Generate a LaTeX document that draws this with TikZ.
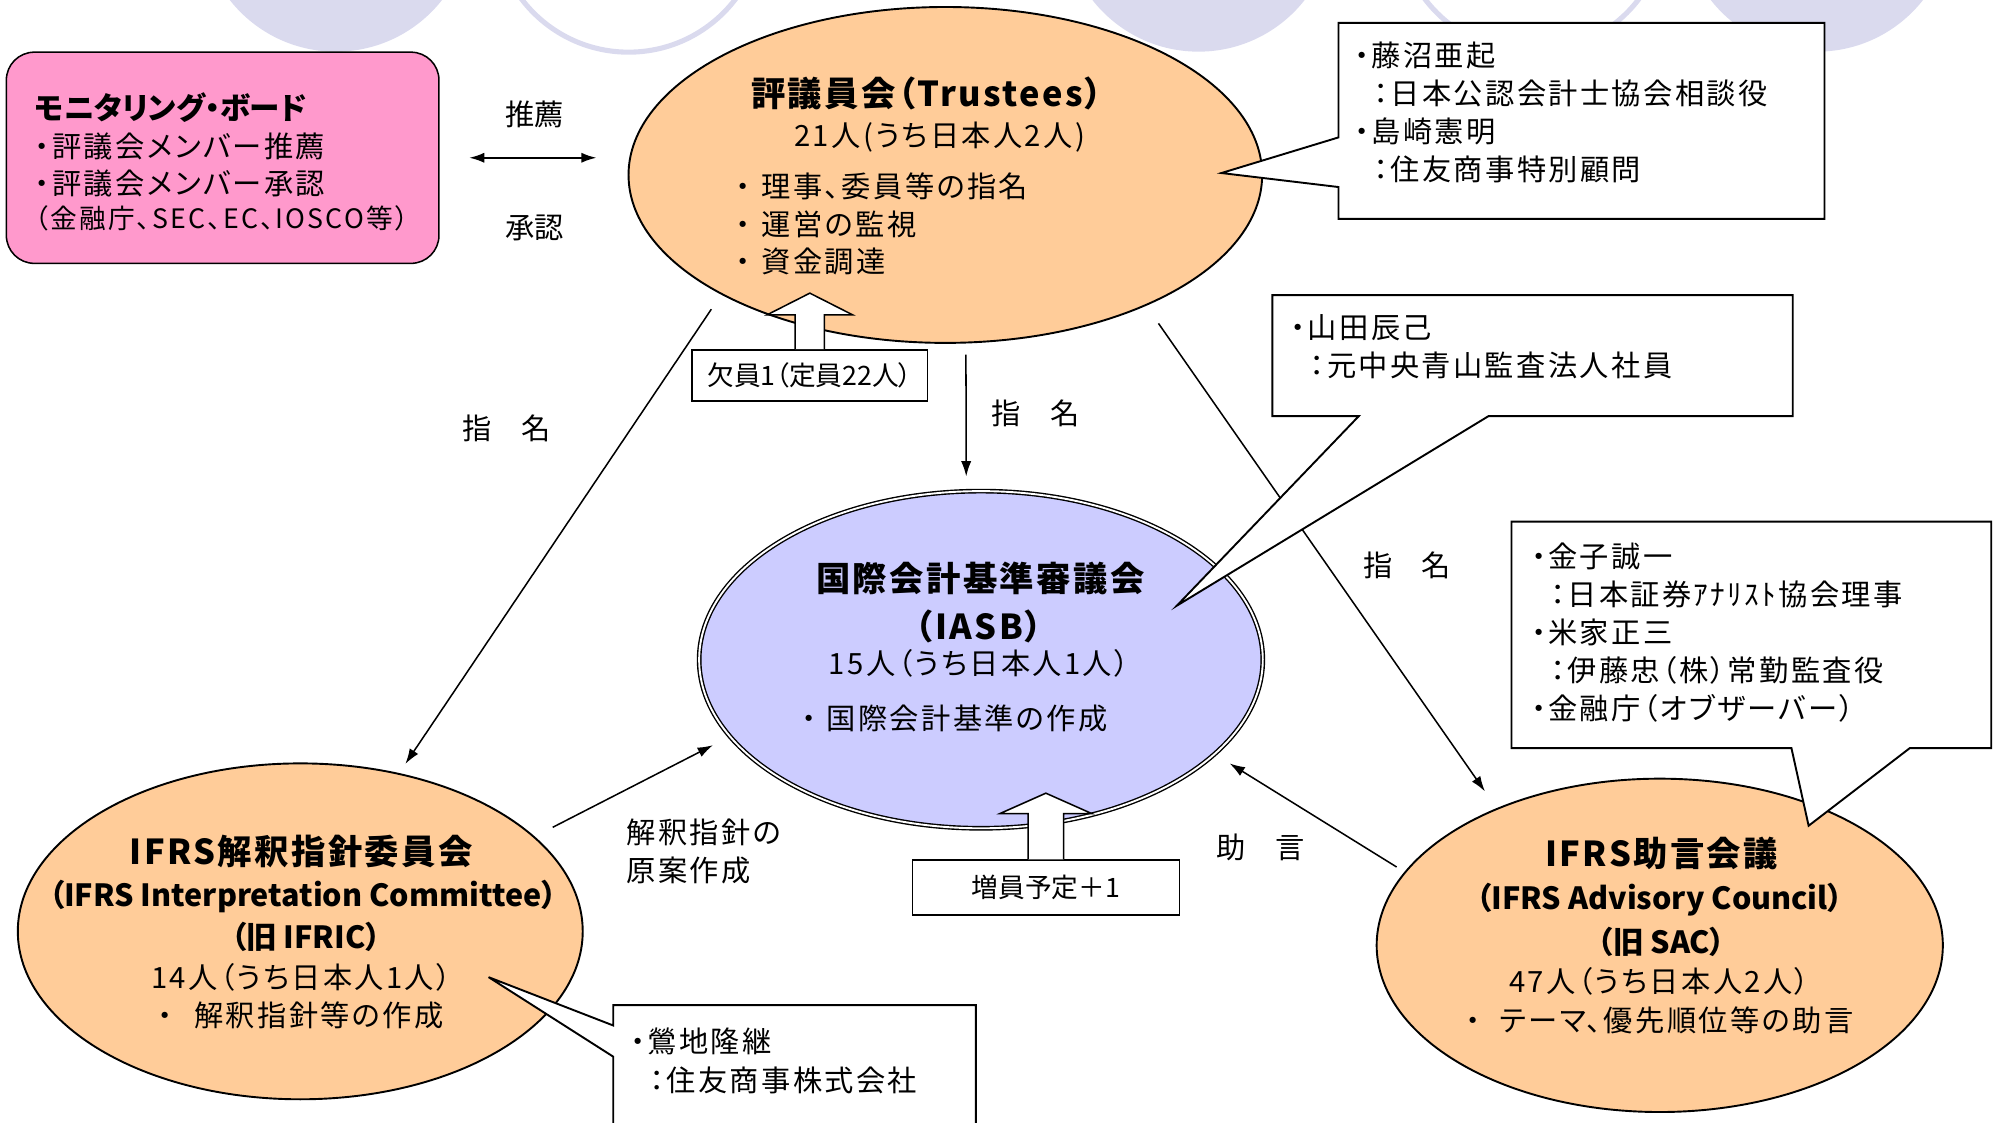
\documentclass[tikz,border=0pt]{standalone}
\usepackage{fontspec}
\setmainfont{Noto Sans CJK JP}[RawFeature=+palt]
\usetikzlibrary{arrows.meta,shapes.geometric}
\definecolor{peach}{HTML}{FFCC99}
\definecolor{lilac}{HTML}{CCCCFF}
\definecolor{rose}{HTML}{FF99CC}
\definecolor{haze}{HTML}{DADAEE}
\tikzset{>={Latex[length=12pt,width=8pt]}}
\tikzset{
  body/.style={ellipse,draw,line width=1.5pt,inner sep=0pt,outer sep=0pt},
  tag/.style={draw,fill=white,inner sep=0pt,font=\fontsize{21}{21}\selectfont},
  note/.style={draw,fill=white,line width=1.5pt,line join=miter},
  blockarrow/.style={draw,fill=white,line join=miter},
  ttl/.style={inner sep=0pt,font=\bfseries\addfontfeature{LetterSpace=7}\fontsize{27}{32}\selectfont},
  subttl/.style={inner sep=0pt,font=\bfseries\fontsize{24}{30}\selectfont},
  lbl/.style={inner sep=0pt,align=left,font=\fontsize{23}{31}\selectfont},
  txt/.style={inner sep=0pt,align=left,font=\addfontfeature{LetterSpace=8}\fontsize{23}{30}\selectfont},
}

\begin{document}
\begin{tikzpicture}[x=1pt,y=-1pt,line width=1.2pt]
  \useasboundingbox (0,0) rectangle (1568,882.6);
  % Background
  \begin{scope}
    \clip (0,0) rectangle (1568,882.6);
    \foreach \cx in {264,942,1428} \fill[haze] (\cx,-65.4) circle (106pt);
    \foreach \cx in {494,1204} \draw[haze,line width=4pt] (\cx,-64.5) circle (105.5pt);
  \end{scope}

  % Bodies
  \node[draw,fill=rose,rounded corners=22pt,minimum width=340pt,minimum height=166pt] (monitor) at (175,124) {};
  \node[body,fill=peach,minimum width=498pt,minimum height=264pt] (trust) at (743,137.5) {};
  \node[body,fill=lilac,line width=1.1pt,double=white,double distance=1.5pt,minimum width=443pt,minimum height=265pt] (iasb) at (771,518.5) {};
  \node[body,fill=peach,minimum width=444pt,minimum height=264pt] (ifric) at (236,732) {};
  \node[body,fill=peach,minimum width=445pt,minimum height=262pt] (council) at (1304.5,743) {};

  % Lines
  \draw[<->,line width=1.8pt,shorten <=23pt,shorten >=25pt] (monitor.east) -- (monitor.east -| trust.west);
  \draw[->,shorten <=14.5pt,shorten >=9.5pt] (trust.208.5) -- (ifric.58.7);
  \draw[->,shorten <=9.5pt,shorten >=11.7pt] (trust.-83.3) -- (iasb.95.3);
  \draw[->,shorten <=17.6pt,shorten >=16.8pt] (trust.-33.4) -- (council.140.8);
  \draw[->,shorten <=16.6pt,shorten >=15.1pt] (ifric.22.9) -- (iasb.197.8);
  \draw[->,shorten <=8pt,shorten >=14pt] (council.164.5) -- (iasb.-22.1);

  % Labels
  \node[lbl] (recommend) at (420,90) {推薦};
  \node[lbl] (approve) at (420,179.5) {承認};
  \node[lbl] (nomleft) at (398,337) {指　名};
  \node[lbl] (nommid) at (814,325) {指　名};
  \node[lbl] (nomright) at (1106,444.5) {指　名};
  \node[lbl] (advise) at (990.7,666) {助　言};
  \node[txt,anchor=west] (draft) at (492,669.5) {解釈指針の\\原案作成};

  % Callouts
  \draw[note] (1052,18) -- (1434,18) -- (1434,172) -- (1052,172) -- (1052,147) -- (960,136) -- (1052,108) -- cycle;
  \draw[note] (1000,232) -- (1409,232) -- (1409,327) -- (1170,327) -- (925,476) -- (1068,327) -- (1000,327) -- cycle;
  \draw[note] (1188,410) -- (1565,410) -- (1565,588) -- (1501,588) -- (1421.5,649) -- (1408,588) -- (1188,588) -- cycle;
  \draw[note] (482,790) -- (767,790) -- (767,900) -- (482,900) -- (482,830.5) -- (384,768) -- (482,806) -- cycle;
  \node[txt,anchor=west] (fujinuma) at (1064,88.4) {・藤沼亜起\\\hspace*{15pt}：日本公認会計士協会相談役\\・島崎憲明\\\hspace*{15pt}：住友商事特別顧問};
  \node[txt,anchor=west] (yamada) at (1014,272.5) {・山田辰己\\\hspace*{15pt}：元中央青山監査法人社員};
  \node[txt,anchor=west] (kaneko) at (1203,497.3) {・金子誠一\\\hspace*{15pt}：日本証券ｱﾅﾘｽﾄ協会理事\\・米家正三\\\hspace*{15pt}：伊藤忠（株）常勤監査役\\・金融庁（オブザーバー）};
  \node[txt,anchor=west] (washiji) at (495,833.8) {・鶯地隆継\\\hspace*{15pt}：住友商事株式会社};

  % Seats
  \node[tag,minimum width=185pt,minimum height=40pt] (vacant) at (636.5,295) {欠員1（定員22人）};
  \draw[blockarrow] ([xshift=-11.5pt]vacant.north) -- ++(0,-27) -- ++(-22,0) -- ++(33.5,-17) -- ++(33.5,17) -- ++(-22,0) -- ++(0,27);
  \node[tag,minimum width=210pt,minimum height=43pt] (expand) at (822,697.5) {増員予定＋1};
  \draw[blockarrow] ([xshift=-14pt]expand.north) -- ++(0,-36) -- ++(-22,0) -- ++(36,-16) -- ++(36,16) -- ++(-22,0) -- ++(0,36);

  % Texts
  \node[inner sep=0pt,font=\bfseries\fontsize{24}{24}\selectfont,anchor=west] (monitorttl) at (27,84.4) {モニタリング・ボード};
  \node[txt,anchor=west,font=\addfontfeature{LetterSpace=8}\fontsize{23}{28.7}\selectfont] (monitortxt) at (27,129.6) {・評議会メンバー推薦\\・評議会メンバー承認};
  \node[txt,anchor=west,font=\addfontfeature{LetterSpace=8}\fontsize{21}{21}\selectfont] (monitorsub) at (27,171.6) {（金融庁、SEC、EC、IOSCO等）};

  \node[ttl] (trustttl) at (728.5,73.4) {評議員会（Trustees）};
  \node[txt] (trustnum) at (738.5,107.4) {21人(うち日本人2人)};
  \node[txt,anchor=west,font=\addfontfeature{LetterSpace=8}\fontsize{23}{29.5}\selectfont] (trustduty) at (577.6,176) {・\hspace{9pt}理事、委員等の指名\\・\hspace{9pt}運営の監視\\・\hspace{9pt}資金調達};

  \node[ttl] (iasbttl) at (770.5,455) {国際会計基準審議会};
  \node[ttl] (iasbabbr) at (769.5,492) {（IASB）};
  \node[txt] (iasbnum) at (769.5,521) {15人（うち日本人1人）};
  \node[txt,anchor=west] (iasbduty) at (629.6,565) {・\hspace{8pt}国際会計基準の作成};

  \node[ttl] (ifricttl) at (236.7,669.4) {IFRS解釈指針委員会};
  \node[subttl] (ifricen) at (238,704.8) {（IFRS Interpretation Committee）};
  \node[subttl] (ifricold) at (240.5,736) {（旧 IFRIC）};
  \node[txt] (ifricnum) at (236.7,768) {14人（うち日本人1人）};
  \node[txt] (ifricduty) at (236.5,797.8) {・\hspace{17pt}解釈指針等の作成};

  \node[ttl] (councilttl) at (1306,670.6) {IFRS助言会議};
  \node[subttl] (councilen) at (1304.5,707.4) {（IFRS Advisory Council）};
  \node[subttl] (councilold) at (1306,740) {（旧 SAC）};
  \node[txt] (councilnum) at (1304.3,771.6) {47人（うち日本人2人）};
  \node[txt] (councilduty) at (1304.5,801.7) {・\hspace{15pt}テーマ、優先順位等の助言};
\end{tikzpicture}
\end{document}
